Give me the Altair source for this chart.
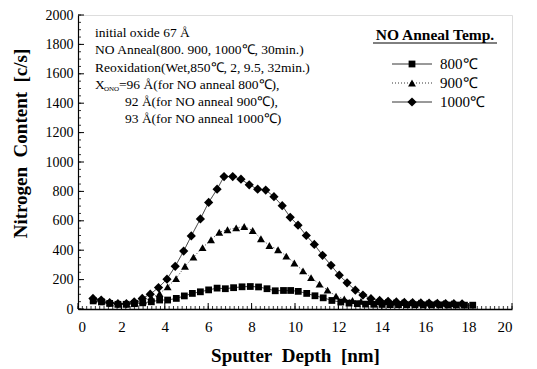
import altair as alt
import pandas as pd

# ---------------- data ----------------
depth_800 = [0.70, 1.08, 1.46, 1.84, 2.22, 2.60, 2.98, 3.38, 3.76, 4.13, 4.53, 4.90, 5.27, 5.64,
             6.02, 6.41, 6.79, 7.17, 7.56, 7.94, 8.32, 8.71, 9.09, 9.47, 9.80, 10.15, 10.54,
             10.92, 11.30, 11.70, 12.11, 12.49, 12.87, 13.25, 13.63, 14.01, 14.39, 14.77,
             15.15, 15.53, 15.91, 16.29, 16.67, 17.05, 17.43, 17.81, 18.19]
nitrogen_800 = [55, 48, 38, 32, 32, 36, 42, 49, 61, 61, 72, 89, 106, 117,
                130, 142, 138, 145, 151, 153, 150, 138, 124, 126, 126, 120, 106,
                90, 76, 58, 47, 40, 36, 33, 32, 31, 30, 30,
                29, 29, 28, 28, 28, 27, 27, 26, 26]

depth_900 = [0.72, 1.10, 1.48, 1.86, 2.24, 2.62, 3.00, 3.38, 3.76, 4.13, 4.52, 4.93, 5.32, 5.74,
             6.13, 6.51, 6.89, 7.29, 7.66, 8.05, 8.43, 8.82, 9.22, 9.60, 9.97, 10.37, 10.74,
             11.13, 11.50, 11.89, 12.27, 12.65, 13.04, 13.42, 13.80, 14.18, 14.56, 14.94,
             15.32, 15.70, 16.08, 16.46, 16.84, 17.22]
nitrogen_900 = [65, 55, 42, 35, 35, 42, 55, 75, 105, 151, 207, 291, 353, 417,
                471, 522, 539, 552, 561, 534, 478, 432, 403, 360, 313, 259, 214,
                169, 128, 88, 68, 58, 52, 50, 48, 47, 45, 44,
                42, 41, 40, 39, 38, 37]

depth_1000 = [0.69, 1.07, 1.46, 1.84, 2.23, 2.59, 2.96, 3.33, 3.71, 4.10, 4.48, 4.87, 5.22, 5.64,
              6.02, 6.41, 6.73, 7.13, 7.51, 7.89, 8.28, 8.65, 9.03, 9.41, 9.78, 10.14, 10.52,
              10.89, 11.27, 11.66, 12.04, 12.40, 12.78, 13.13, 13.50, 13.90, 14.29, 14.67,
              15.04, 15.42, 15.80, 16.18, 16.56, 16.94, 17.32, 17.70]
nitrogen_1000 = [72, 61, 43, 36, 36, 49, 72, 101, 146, 203, 290, 394, 497, 613,
                 725, 815, 901, 901, 883, 845, 815, 809, 764, 703, 624, 570, 500,
                 439, 365, 297, 230, 178, 128, 95, 70, 58, 52, 48,
                 45, 43, 41, 40, 38, 37, 36, 35]

series_names = ["800℃", "900℃", "1000℃"]

x_major = [0, 2, 4, 6, 8, 10, 12, 14, 16, 18, 20]
x_minor = [round(0.2 * i, 1) for i in range(101)]
y_major = [0, 200, 400, 600, 800, 1000, 1200, 1400, 1600, 1800, 2000]
y_minor = [50 * i for i in range(41)]

annot_lines = ["initial oxide 67 Å",
               "NO Anneal(800. 900, 1000℃, 30min.)",
               "Reoxidation(Wet,850℃, 2, 9.5, 32min.)",
               "X",
               "ONO",
               "=96 Å(for NO anneal 800℃),",
               "92 Å(for NO anneal 900℃),",
               "93 Å(for NO anneal 1000℃)"]
legend_title = "NO Anneal Temp."
x_title = "Sputter\u00a0 Depth\u00a0 [nm]"
y_title = "Nitrogen\u00a0 Content\u00a0 [c/s]"

# ---------------- layout ----------------
W, H = 434, 294
SERIF = "Liberation Serif"
xs = alt.Scale(domain=[0, 20], nice=False, zero=False)
ys = alt.Scale(domain=[0, 2000], nice=False, zero=False)

x_axis = alt.Axis(
    values=x_major, format="d", ticks=False, grid=False, domainColor="black",
    domainWidth=1.6, labelFont=SERIF, labelFontSize=15, labelColor="black",
    labelPadding=10, title=x_title, titleFont=SERIF, titleFontSize=19,
    titleFontWeight="bold", titleColor="black", titleY=46, titleBaseline="middle")
y_axis = alt.Axis(
    values=y_major, format="d", ticks=False, grid=False, domainColor="black",
    domainWidth=1.2, labelFont=SERIF, labelFontSize=14, labelColor="black",
    labelPadding=5, title=y_title, titleFont=SERIF, titleFontSize=19,
    titleFontWeight="bold", titleColor="black", titleX=-58, titleY=128,
    titleAlign="center", titleBaseline="middle", titleAngle=270)


def X(field):
    return alt.X(field, scale=xs, axis=x_axis)


def Y(field):
    return alt.Y(field, scale=ys, axis=y_axis)


styles = [
    dict(shape="square", size=46, dash=[1, 0]),
    dict(shape="triangle-up", size=62, dash=[1, 2]),
    dict(shape="diamond", size=85, dash=[1, 0]),
]
series_data = [(depth_800, nitrogen_800), (depth_900, nitrogen_900), (depth_1000, nitrogen_1000)]

layers = []


def xticks(vals, ln, w):
    return alt.Chart(pd.DataFrame({"t": vals})).mark_rule(color="black", strokeWidth=w).encode(
        x=X("t:Q"), y=alt.value(H), y2=alt.value(H - ln))


def yticks(vals, ln, w):
    return alt.Chart(pd.DataFrame({"t": vals})).mark_rule(color="black", strokeWidth=w).encode(
        y=Y("t:Q"), x=alt.value(0), x2=alt.value(ln))


layers += [xticks(x_minor, 3, 0.8), xticks(x_major, 6, 1.0),
           yticks(y_minor, 3, 0.8), yticks(y_major, 6, 1.0)]

for name, (dep, val), st in zip(series_names, series_data, styles):
    df = pd.DataFrame({"d": dep, "n": val})
    layers.append(alt.Chart(df).mark_line(color="black", strokeWidth=0.8,
                                          strokeDash=st["dash"]).encode(
        x=X("d:Q"), y=Y("n:Q")))
for name, (dep, val), st in zip(series_names, series_data, styles):
    df = pd.DataFrame({"d": dep, "n": val})
    layers.append(alt.Chart(df).mark_point(filled=True, color="black", opacity=1,
                                           shape=st["shape"], size=st["size"]).encode(
        x=X("d:Q"), y=Y("n:Q")))

# annotation text (pixel layout inside the plot area)
annot_pos = [(17, 18, 13.5), (17, 35, 13.5), (17, 53, 13.5), (17, 70, 13.5), (26, 74, 7),
             (41, 70, 13.5), (47, 87, 13.5), (47, 104, 13.5)]
for txt, (px, py, fs) in zip(annot_lines, annot_pos):
    layers.append(alt.Chart(pd.DataFrame({"t": [txt]})).mark_text(
        font=SERIF, fontSize=fs, align="left", baseline="middle", color="black").encode(
        x=alt.value(px), y=alt.value(py), text="t:N"))

# legend
layers.append(alt.Chart(pd.DataFrame({"t": [legend_title]})).mark_text(
    font=SERIF, fontSize=15.5, fontWeight="bold", align="center", baseline="middle",
    color="black").encode(x=alt.value(357), y=alt.value(20), text="t:N"))
layers.append(alt.Chart(pd.DataFrame({"t": [0]})).mark_rule(color="black", strokeWidth=1).encode(
    x=alt.value(295), x2=alt.value(419), y=alt.value(28)))
leg_y = [49, 68, 87]
for name, st, ly in zip(series_names, styles, leg_y):
    d = pd.DataFrame({"t": [name]})
    layers.append(alt.Chart(d).mark_rule(color="black", strokeWidth=0.8,
                                         strokeDash=st["dash"]).encode(
        x=alt.value(314), x2=alt.value(354), y=alt.value(ly)))
    layers.append(alt.Chart(d).mark_point(filled=True, color="black", opacity=1,
                                          shape=st["shape"], size=st["size"]).encode(
        x=alt.value(334), y=alt.value(ly)))
    layers.append(alt.Chart(d).mark_text(font=SERIF, fontSize=15, align="left",
                                         baseline="middle", color="black").encode(
        x=alt.value(362), y=alt.value(ly), text="t:N"))

chart = alt.layer(*layers).properties(
    width=W, height=H,
    padding={"left": 70, "top": 7, "right": 17, "bottom": 60},
    autosize=alt.AutoSizeParams(type="none"),
).configure_view(stroke="black", strokeWidth=1).configure(background="white")

chart.save("out.html", embed_options={"renderer": "svg", "actions": False})
